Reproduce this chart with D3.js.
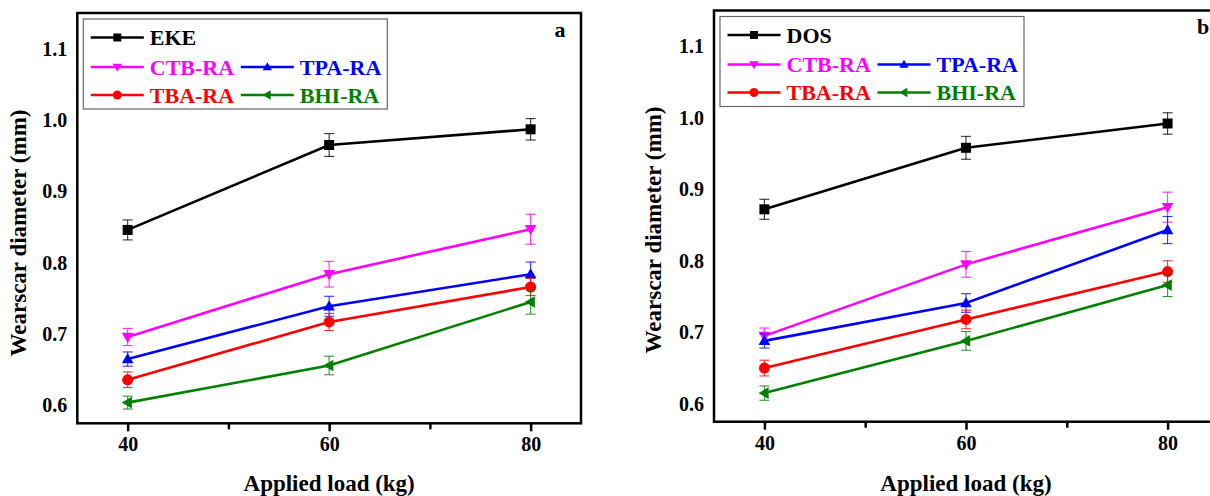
<!DOCTYPE html>
<html>
<head>
<meta charset="utf-8">
<script src="https://cdn.jsdelivr.net/npm/d3@7"></script>
<style>
  html, body { margin: 0; padding: 0; background: #fff; }
  svg { display: block; }
  text { font-family: "Liberation Serif", "Times New Roman", serif; font-weight: bold; }
</style>
</head>
<body>
<svg id="chart" width="1210" height="496"></svg>
<script>
// ---------- data ----------
const loads = [40, 60, 80];
const xMajorTicks = [40, 60, 80];
const xMinorTicks = [50, 70];
const yTicks = [0.6, 0.7, 0.8, 0.9, 1.0, 1.1];

const seriesNamesA = ["EKE", "CTB-RA", "TPA-RA", "TBA-RA", "BHI-RA"];
const seriesNamesB = ["DOS", "CTB-RA", "TPA-RA", "TBA-RA", "BHI-RA"];
const seriesColors = ["#000000", "#ff00ff", "#0000ff", "#ff0000", "#008000"];
const seriesMarkers = ["square", "triangleDown", "triangleUp", "circle", "triangleLeft"];

// Panel a values (wearscar diameter, mm)
const ekeA = [0.846, 0.965, 0.987];
const ctbA = [0.696, 0.784, 0.847];
const tpaA = [0.665, 0.739, 0.784];
const tbaA = [0.636, 0.717, 0.766];
const bhiA = [0.604, 0.656, 0.745];
// Panel a error
const ekeErrA = [0.014, 0.016, 0.015];
const ctbErrA = [0.012, 0.018, 0.021];
const tpaErrA = [0.010, 0.014, 0.017];
const tbaErrA = [0.011, 0.012, 0.012];
const bhiErrA = [0.009, 0.013, 0.017];

// Panel b values
const dosB = [0.872, 0.958, 0.992];
const ctbB = [0.695, 0.795, 0.875];
const tpaB = [0.688, 0.741, 0.843];
const tbaB = [0.650, 0.718, 0.785];
const bhiB = [0.615, 0.688, 0.766];
// Panel b error
const dosErrB = [0.014, 0.016, 0.015];
const ctbErrB = [0.011, 0.018, 0.021];
const tpaErrB = [0.010, 0.013, 0.019];
const tbaErrB = [0.011, 0.013, 0.015];
const bhiErrB = [0.010, 0.013, 0.016];

const yTitle = "Wearscar diameter (mm)";
const xTitle = "Applied load (kg)";

// ---------- drawing ----------
const svg = d3.select("#chart");

function markerPath(type, size) {
  const s = size;
  switch (type) {
    case "square": return `M${-s/2},${-s/2}h${s}v${s}h${-s}Z`;
    case "triangleUp": return `M0,${-s*0.6}L${s*0.58},${s*0.42}L${-s*0.58},${s*0.42}Z`;
    case "triangleDown": return `M0,${s*0.6}L${s*0.58},${-s*0.42}L${-s*0.58},${-s*0.42}Z`;
    case "triangleLeft": return `M${-s*0.6},0L${s*0.42},${-s*0.58}L${s*0.42},${s*0.58}Z`;
    case "circle": {
      const r = s / 2;
      return `M${r},0A${r},${r} 0 1,1 ${-r},0A${r},${r} 0 1,1 ${r},0Z`;
    }
  }
}

function drawPanel(cfg) {
  const g = svg.append("g");
  const x = d3.scaleLinear().domain([35, 85]).range([cfg.left, cfg.right]);
  const y = d3.scaleLinear().domain([0.575, 1.15]).range([cfg.bottom, cfg.top]);

  // minor ticks
  g.append("g")
    .attr("transform", `translate(0,${cfg.bottom})`)
    .call(d3.axisBottom(x).tickValues(xMinorTicks).tickSize(6).tickFormat(""))
    .call(a => a.select(".domain").remove())
    .call(a => a.selectAll("line").attr("stroke", "#000").attr("stroke-width", 2.5));

  // major ticks
  g.append("g")
    .attr("transform", `translate(0,${cfg.bottom})`)
    .call(d3.axisBottom(x).tickValues(xMajorTicks).tickSize(8).tickPadding(6).tickFormat(d3.format("d")))
    .call(a => a.select(".domain").remove())
    .call(a => a.selectAll("line").attr("stroke", "#000").attr("stroke-width", 2.5))
    .call(a => a.selectAll("text").attr("font-size", 20).attr("fill", "#000")
      .style("font-family", "Liberation Serif").style("font-weight", "bold"));

  // y axis labels
  g.append("g")
    .attr("transform", `translate(${cfg.left},0)`)
    .call(d3.axisLeft(y).tickValues(yTicks).tickSize(0).tickPadding(10).tickFormat(d3.format(".1f")))
    .call(a => a.select(".domain").remove())
    .call(a => a.selectAll("text").attr("font-size", 20).attr("fill", "#000")
      .style("font-family", "Liberation Serif").style("font-weight", "bold"));

  // frame
  g.append("rect")
    .attr("x", cfg.left).attr("y", cfg.top)
    .attr("width", cfg.right - cfg.left).attr("height", cfg.bottom - cfg.top)
    .attr("fill", "none").attr("stroke", "#000").attr("stroke-width", 2.5);

  // series
  const line = d3.line().x((d, i) => x(loads[i])).y(d => y(d));
  cfg.series.forEach((vals, si) => {
    const color = seriesColors[si];
    const errs = cfg.errors[si];
    const sg = g.append("g");
    sg.append("path").datum(vals)
      .attr("d", line).attr("fill", "none")
      .attr("stroke", color).attr("stroke-width", 2.6);
    // error bars
    vals.forEach((v, i) => {
      const cx = x(loads[i]);
      const e = errs[i];
      sg.append("line").attr("x1", cx).attr("x2", cx)
        .attr("y1", y(v - e)).attr("y2", y(v + e))
        .attr("stroke", color).attr("stroke-width", 1.1).attr("opacity", 0.8);
      [v - e, v + e].forEach(ev => {
        sg.append("line").attr("x1", cx - 5).attr("x2", cx + 5)
          .attr("y1", y(ev)).attr("y2", y(ev))
          .attr("stroke", color).attr("stroke-width", 1.1).attr("opacity", 0.8);
      });
    });
    sg.selectAll(null).data(vals).enter().append("path")
      .attr("transform", (d, i) => `translate(${x(loads[i])},${y(d)})`)
      .attr("d", markerPath(seriesMarkers[si], seriesMarkers[si] === "circle" ? 11 : 10))
      .attr("fill", color);
  });

  // panel letter
  g.append("text").attr("x", cfg.letterX).attr("y", cfg.letterY)
    .attr("text-anchor", "middle").attr("font-size", 22).attr("fill", "#000")
    .text(cfg.letter);

  // legend
  const lg = g.append("g");
  lg.append("rect").attr("x", cfg.left + 6).attr("y", cfg.top + 6)
    .attr("width", 304).attr("height", 90)
    .attr("fill", "none").attr("stroke", "#666").attr("stroke-width", 1.2);
  const rowY = [cfg.top + 24.5, cfg.top + 54, cfg.top + 82];
  const colX = [cfg.left + 13.5, cfg.left + 163.5];
  const slots = [[0, 0], [1, 0], [1, 1], [2, 0], [2, 1]];
  cfg.names.forEach((name, si) => {
    const [r, c] = slots[si];
    const lx = colX[c], ly = rowY[r];
    const color = seriesColors[si];
    lg.append("line").attr("x1", lx).attr("x2", lx + 53)
      .attr("y1", ly).attr("y2", ly)
      .attr("stroke", color).attr("stroke-width", 2.6);
    lg.append("path").attr("transform", `translate(${lx + 26.5},${ly})`)
      .attr("d", markerPath(seriesMarkers[si], seriesMarkers[si] === "circle" ? 9 : 8))
      .attr("fill", color);
    lg.append("text").attr("x", lx + 59).attr("y", ly + 7.5)
      .attr("font-size", 22).attr("fill", color).text(name);
  });

  // axis titles
  g.append("text")
    .attr("x", (x(40) + x(80)) / 2).attr("y", 491)
    .attr("text-anchor", "middle").attr("font-size", 23).attr("fill", "#000")
    .text(xTitle);
  g.append("text")
    .attr("transform", `translate(${cfg.yTitleX},${cfg.yTitleY}) rotate(-90)`)
    .attr("text-anchor", "middle").attr("font-size", 23).attr("fill", "#000")
    .text(yTitle);
}

drawPanel({
  left: 77.3, right: 581, top: 13, bottom: 423.3,
  names: seriesNamesA,
  series: [ekeA, ctbA, tpaA, tbaA, bhiA],
  errors: [ekeErrA, ctbErrA, tpaErrA, tbaErrA, bhiErrA],
  letter: "a", letterX: 560, letterY: 37,
  yTitleX: 26, yTitleY: 233
});

drawPanel({
  left: 714, right: 1218, top: 10.5, bottom: 421.7,
  names: seriesNamesB,
  series: [dosB, ctbB, tpaB, tbaB, bhiB],
  errors: [dosErrB, ctbErrB, tpaErrB, tbaErrB, bhiErrB],
  letter: "b", letterX: 1203, letterY: 34,
  yTitleX: 661, yTitleY: 230
});
</script>
</body>
</html>
